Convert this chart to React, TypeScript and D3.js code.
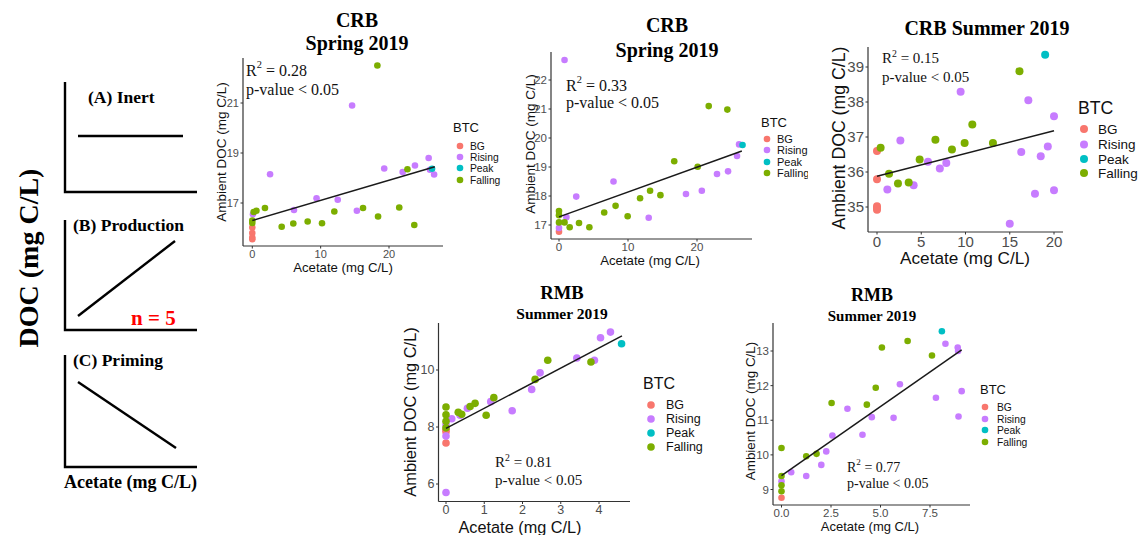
import React from 'react';
import * as d3 from 'd3';

type Pt = [number, number];

const SERIES = ['BG', 'Rising', 'Peak', 'Falling'];
const COLORS: Record<string, string> = { BG: '#F8766D', Rising: '#C77CFF', Peak: '#00BFC4', Falling: '#7CAE00' };

// ---------- Panel 1: CRB Spring 2019 (left) ----------
const p1BG: Pt[] = [[0, 16.02], [0, 15.8], [0, 15.62], [0, 15.55]];
const p1Rising: Pt[] = [[0.1, 16.55], [2.6, 18.15], [6.1, 16.72], [9.4, 17.19], [12.5, 17.13], [14.6, 20.9], [15.3, 16.69], [19.3, 18.38], [22.0, 18.24], [23.8, 18.5], [25.8, 18.8], [26.0, 18.33], [26.6, 18.14]];
const p1Peak: Pt[] = [[26.3, 18.37]];
const p1Falling: Pt[] = [[18.3, 22.5], [0, 16.3], [0, 16.2], [0.2, 16.64], [0.6, 16.69], [1.85, 16.8], [4.3, 16.05], [6.0, 16.18], [8.1, 16.26], [10.2, 16.19], [12.0, 16.66], [16.2, 16.8], [18.4, 16.46], [21.5, 16.82], [22.7, 18.35], [23.7, 16.12]];
const p1Fit: Pt[] = [[0, 16.3], [26.7, 18.45]];
const p1XTicks = [0, 10, 20];
const p1YTicks = [17, 19, 21];

// ---------- Panel 2: CRB Spring 2019 (middle) ----------
const p2BG: Pt[] = [[0, 16.77]];
const p2Rising: Pt[] = [[0, 16.9], [0.8, 22.69], [1.07, 17.27], [2.5, 17.98], [7.9, 18.5], [13.0, 17.25], [18.4, 18.07], [20.7, 18.18], [22.9, 18.76], [24.5, 18.85], [25.8, 19.38], [26.1, 19.78]];
const p2Peak: Pt[] = [[26.6, 19.76]];
const p2Falling: Pt[] = [[0, 17.48], [0, 17.34], [0, 17.09], [0.8, 17.09], [1.55, 16.92], [2.9, 17.07], [4.4, 16.92], [6.55, 17.43], [8.2, 17.66], [9.95, 17.3], [11.75, 17.92], [13.2, 18.18], [14.7, 18.03], [16.7, 19.2], [20.1, 19.01], [21.7, 21.1], [24.4, 20.98]];
const p2Fit: Pt[] = [[0, 17.28], [26.5, 19.55]];
const p2XTicks = [0, 10, 20];
const p2YTicks = [17, 18, 19, 20, 21, 22];

// ---------- Panel 3: CRB Summer 2019 ----------
const p3BG: Pt[] = [[0, 36.6], [0, 35.79], [0, 35.02], [0, 34.97], [0, 34.92]];
const p3Rising: Pt[] = [[1.17, 35.5], [2.64, 36.9], [4.14, 35.62], [5.76, 36.29], [7.1, 36.1], [7.83, 36.26], [9.45, 38.29], [15.0, 34.52], [16.3, 36.57], [17.1, 38.05], [17.85, 35.38], [18.5, 36.45], [19.3, 36.73], [20.0, 37.59], [20.0, 35.48]];
const p3Peak: Pt[] = [[19.0, 39.35]];
const p3Falling: Pt[] = [[0.41, 36.69], [1.36, 35.95], [2.37, 35.67], [3.58, 35.7], [4.82, 36.36], [6.6, 36.92], [8.47, 36.64], [9.9, 36.83], [10.77, 37.36], [13.1, 36.83], [16.1, 38.88]];
const p3Fit: Pt[] = [[0, 35.88], [20, 37.18]];
const p3XTicks = [0, 5, 10, 15, 20];
const p3YTicks = [35, 36, 37, 38, 39];

// ---------- Panel 4: RMB Summer 2019 (left) ----------
const p4BG: Pt[] = [[0, 7.9], [0, 7.83], [0, 7.44]];
const p4Rising: Pt[] = [[0, 5.7], [0, 7.68], [0, 8.08], [0.15, 8.29], [0.37, 8.41], [0.56, 8.66], [1.17, 8.89], [1.73, 8.57], [2.24, 9.32], [2.46, 9.9], [3.42, 10.42], [3.88, 10.34], [4.04, 11.13], [4.3, 11.33]];
const p4Peak: Pt[] = [[4.59, 10.92]];
const p4Falling: Pt[] = [[0, 8.7], [0, 8.43], [0, 8.2], [0, 7.97], [0.32, 8.52], [0.41, 8.45], [0.63, 8.72], [0.76, 8.83], [1.05, 8.41], [1.25, 9.03], [2.33, 9.67], [2.66, 10.34], [3.79, 10.28]];
const p4Fit: Pt[] = [[0, 7.95], [4.6, 11.2]];
const p4XTicks = [0, 1, 2, 3, 4];
const p4YTicks = [6, 8, 10];

// ---------- Panel 5: RMB Summer 2019 (right) ----------
const p5BG: Pt[] = [[0, 8.76]];
const p5Rising: Pt[] = [[0, 9.24], [0.49, 9.5], [1.25, 9.39], [2.01, 9.71], [2.26, 10.1], [2.57, 10.56], [3.33, 11.33], [4.09, 10.58], [4.56, 11.09], [5.66, 11.07], [5.98, 12.04], [7.8, 11.65], [8.28, 13.21], [8.9, 13.1], [8.92, 13.0], [8.94, 11.11], [9.1, 11.84]];
const p5Peak: Pt[] = [[8.1, 13.57]];
const p5Falling: Pt[] = [[0, 10.2], [0, 9.39], [0, 9.12], [0, 8.95], [1.25, 9.96], [1.77, 10.03], [2.53, 11.5], [4.31, 11.45], [4.76, 11.94], [5.07, 13.1], [6.37, 13.29], [7.6, 12.87]];
const p5Fit: Pt[] = [[0, 9.4], [9.1, 13.03]];
const p5XTicks = [0, 2.5, 5, 7.5];
const p5YTicks = [9, 10, 11, 12, 13];

const SANS = '"Liberation Sans", Arial, sans-serif';
const SERIF = '"Liberation Serif", "Times New Roman", serif';

interface Cfg {
  id: string;
  data: Record<string, Pt[]>;
  fit: Pt[];
  xTicks: number[]; yTicks: number[]; xFmt: (v: number) => string;
  xDom: [number, number]; xRng: [number, number];
  yDom: [number, number]; yRng: [number, number];
  axX: number; axTop: number; axY: number; axRight: number;
  tickFont: number; labFont: number; xlabFont: number;
  ylabX: number; ylabY: number; xlabX: number; xlabY: number;
  title: string[]; titleX: number; titleY: number[]; titleFont: number[];
  legTitleX: number; legTitleY: number; legTitleFont: number;
  legDotX: number; legTextX: number; legYs: number[]; legFont: number;
  r: number; statX: number; statYs: number[]; statFont: number; r2: string;
  clipRight?: number;
}

const fmtInt = (v: number) => String(v);
const fmt1 = (v: number) => v.toFixed(1);

const panels: Cfg[] = [
  {
    id: 'p1', data: { BG: p1BG, Rising: p1Rising, Peak: p1Peak, Falling: p1Falling }, fit: p1Fit,
    xTicks: p1XTicks, yTicks: p1YTicks, xFmt: fmtInt,
    xDom: [0, 20], xRng: [252.3, 389], yDom: [17, 21], yRng: [203, 103],
    axX: 243, axTop: 58, axY: 246, axRight: 443,
    tickFont: 11, labFont: 13.5, xlabFont: 13.2,
    ylabX: 221, ylabY: 152, xlabX: 343, xlabY: 267,
    title: ['CRB', 'Spring 2019'], titleX: 357, titleY: [20, 43], titleFont: [20, 20],
    legTitleX: 453, legTitleY: 127, legTitleFont: 13,
    legDotX: 460, legTextX: 470, legYs: [146, 157, 168, 180], legFont: 10.3,
    r: 3.3, statX: 246, statYs: [70, 89], statFont: 16, r2: '0.28',
  },
  {
    id: 'p2', data: { BG: p2BG, Rising: p2Rising, Peak: p2Peak, Falling: p2Falling }, fit: p2Fit,
    xTicks: p2XTicks, yTicks: p2YTicks, xFmt: fmtInt,
    xDom: [0, 20], xRng: [559, 697], yDom: [17, 22], yRng: [225, 80],
    axX: 551, axTop: 52, axY: 239, axRight: 752,
    tickFont: 11.5, labFont: 13.5, xlabFont: 13.2,
    ylabX: 530, ylabY: 144, xlabX: 650, xlabY: 260,
    title: ['CRB', 'Spring 2019'], titleX: 667, titleY: [25, 50], titleFont: [20, 20],
    legTitleX: 761, legTitleY: 122, legTitleFont: 13,
    legDotX: 767, legTextX: 777, legYs: [139, 150, 162, 173], legFont: 11,
    r: 3.3, statX: 566, statYs: [85, 102], statFont: 16, r2: '0.33', clipRight: 808,
  },
  {
    id: 'p3', data: { BG: p3BG, Rising: p3Rising, Peak: p3Peak, Falling: p3Falling }, fit: p3Fit,
    xTicks: p3XTicks, yTicks: p3YTicks, xFmt: fmtInt,
    xDom: [0, 20], xRng: [877, 1054], yDom: [35, 39], yRng: [207, 67],
    axX: 868, axTop: 47, axY: 232, axRight: 1063,
    tickFont: 15, labFont: 17.7, xlabFont: 17.2,
    ylabX: 839, ylabY: 138, xlabX: 965, xlabY: 258,
    title: ['CRB Summer 2019'], titleX: 987, titleY: [28], titleFont: [20],
    legTitleX: 1078, legTitleY: 108, legTitleFont: 17.7,
    legDotX: 1084, legTextX: 1098, legYs: [129, 144.5, 159, 173], legFont: 13.5,
    r: 4, statX: 882, statYs: [58, 77], statFont: 15, r2: '0.15',
  },
  {
    id: 'p4', data: { BG: p4BG, Rising: p4Rising, Peak: p4Peak, Falling: p4Falling }, fit: p4Fit,
    xTicks: p4XTicks, yTicks: p4YTicks, xFmt: fmtInt,
    xDom: [0, 4], xRng: [446, 599], yDom: [6, 10], yRng: [484, 370],
    axX: 438.5, axTop: 323, axY: 501.5, axRight: 630,
    tickFont: 12.5, labFont: 16.4, xlabFont: 16.3,
    ylabX: 410, ylabY: 412, xlabX: 520, xlabY: 527,
    title: ['RMB', 'Summer 2019'], titleX: 562, titleY: [292, 313], titleFont: [18.6, 15.5],
    legTitleX: 643, legTitleY: 383, legTitleFont: 16,
    legDotX: 651, legTextX: 666, legYs: [405, 419, 433, 447], legFont: 12.5,
    r: 3.8, statX: 495, statYs: [462, 480], statFont: 15, r2: '0.81',
  },
  {
    id: 'p5', data: { BG: p5BG, Rising: p5Rising, Peak: p5Peak, Falling: p5Falling }, fit: p5Fit,
    xTicks: p5XTicks, yTicks: p5YTicks, xFmt: fmt1,
    xDom: [0, 7.5], xRng: [781.5, 930], yDom: [9, 13], yRng: [489.5, 351],
    axX: 773, axTop: 323, axY: 505, axRight: 970,
    tickFont: 11.5, labFont: 13.4, xlabFont: 13,
    ylabX: 750, ylabY: 411, xlabX: 870, xlabY: 526,
    title: ['RMB', 'Summer 2019'], titleX: 872, titleY: [295, 316], titleFont: [18, 15],
    legTitleX: 980, legTitleY: 389, legTitleFont: 13,
    legDotX: 985, legTextX: 997, legYs: [407, 419, 430, 442], legFont: 10.3,
    r: 3.3, statX: 847, statYs: [467, 483], statFont: 14, r2: '0.77',
  },
];

function Panel({ c }: { c: Cfg }) {
  const x = d3.scaleLinear().domain(c.xDom).range(c.xRng);
  const y = d3.scaleLinear().domain(c.yDom).range(c.yRng);
  const line = d3.line<Pt>().x(d => x(d[0])).y(d => y(d[1]));
  const axisCol = '#333';
  const tickCol = '#4D4D4D';
  const clip = c.clipRight ? `url(#clip-${c.id})` : undefined;
  return (
    <g>
      {c.clipRight && (
        <defs>
          <clipPath id={`clip-${c.id}`}>
            <rect x={0} y={0} width={c.clipRight} height={535} />
          </clipPath>
        </defs>
      )}
      {c.title.map((t, i) => (
        <text key={t} x={c.titleX} y={c.titleY[i]} textAnchor="middle" dominantBaseline="central"
          fontFamily={SERIF} fontWeight="bold" fontSize={c.titleFont[i]} fill="#000">{t}</text>
      ))}
      <line x1={c.axX} x2={c.axX} y1={c.axTop} y2={c.axY} stroke={axisCol} strokeWidth={1.2} />
      <line x1={c.axX} x2={c.axRight} y1={c.axY} y2={c.axY} stroke={axisCol} strokeWidth={1.2} />
      {c.xTicks.map(t => (
        <g key={'x' + t}>
          <line x1={x(t)} x2={x(t)} y1={c.axY} y2={c.axY + 2.5} stroke={axisCol} strokeWidth={1} />
          <text x={x(t)} y={c.axY + 4} dy="0.71em" textAnchor="middle" fontFamily={SANS}
            fontSize={c.tickFont} fill={tickCol}>{c.xFmt(t)}</text>
        </g>
      ))}
      {c.yTicks.map(t => (
        <g key={'y' + t}>
          <line x1={c.axX - 2.5} x2={c.axX} y1={y(t)} y2={y(t)} stroke={axisCol} strokeWidth={1} />
          <text x={c.axX - 4} y={y(t)} dy="0.35em" textAnchor="end" fontFamily={SANS}
            fontSize={c.tickFont} fill={tickCol}>{t}</text>
        </g>
      ))}
      <text transform={`translate(${c.ylabX},${c.ylabY}) rotate(-90)`} textAnchor="middle" dominantBaseline="central"
        fontFamily={SANS} fontSize={c.labFont} fill="#111">Ambient DOC (mg C/L)</text>
      <text x={c.xlabX} y={c.xlabY} textAnchor="middle" dominantBaseline="central"
        fontFamily={SANS} fontSize={c.xlabFont} fill="#111">Acetate (mg C/L)</text>
      {SERIES.map(s => (
        <g key={s}>
          {c.data[s].map((d, i) => (
            <circle key={i} cx={x(d[0])} cy={y(d[1])} r={c.r} fill={COLORS[s]} />
          ))}
        </g>
      ))}
      <path d={line(c.fit) || ''} fill="none" stroke="#1a1a1a" strokeWidth={1.5} />
      <text x={c.statX} y={c.statYs[0]} dominantBaseline="central" fontFamily={SERIF} fontSize={c.statFont} fill="#111">
        R<tspan fontSize={c.statFont * 0.65} dy={-c.statFont * 0.35}>2</tspan>
        <tspan dy={c.statFont * 0.35}>{'  = ' + c.r2}</tspan>
      </text>
      <text x={c.statX} y={c.statYs[1]} dominantBaseline="central" fontFamily={SERIF} fontSize={c.statFont} fill="#111">
        {'p-value < 0.05'}
      </text>
      <g clipPath={clip}>
        <text x={c.legTitleX} y={c.legTitleY} dominantBaseline="central" fontFamily={SANS}
          fontSize={c.legTitleFont} fill="#111">BTC</text>
        {SERIES.map((s, i) => (
          <g key={s}>
            <circle cx={c.legDotX} cy={c.legYs[i]} r={c.r} fill={COLORS[s]} />
            <text x={c.legTextX} y={c.legYs[i]} dominantBaseline="central" fontFamily={SANS}
              fontSize={c.legFont} fill="#111">{s}</text>
          </g>
        ))}
      </g>
    </g>
  );
}

function Schematic() {
  const sw = 2.4;
  return (
    <g fontFamily={SERIF} fontWeight="bold">
      <text transform="translate(28,258) rotate(-90)" textAnchor="middle" dominantBaseline="central" fontSize={28}>DOC (mg C/L)</text>
      <path d="M65,82 V192 H197" fill="none" stroke="#000" strokeWidth={sw} />
      <line x1={78} x2={183} y1={136} y2={136} stroke="#000" strokeWidth={sw} />
      <text x={88} y={97} dominantBaseline="central" fontSize={17.5}>(A) Inert</text>
      <path d="M65,220 V330 H197" fill="none" stroke="#000" strokeWidth={sw} />
      <line x1={78} x2={175} y1={316} y2={241} stroke="#000" strokeWidth={sw} />
      <text x={73} y={225} dominantBaseline="central" fontSize={17.5}>(B) Production</text>
      <text x={131} y={318} dominantBaseline="central" fontSize={21} fill="#FF0000">n = 5</text>
      <path d="M65,355 V467 H197" fill="none" stroke="#000" strokeWidth={sw} />
      <line x1={78} x2={176} y1={382} y2={448} stroke="#000" strokeWidth={sw} />
      <text x={73} y={360} dominantBaseline="central" fontSize={17.5}>(C) Priming</text>
      <text x={64} y={482} dominantBaseline="central" fontSize={18}>Acetate (mg C/L)</text>
    </g>
  );
}

export default function App() {
  return (
    <svg width={1138} height={535} style={{ position: 'absolute', left: 0, top: 0, background: '#fff' }}>
      <rect width={1138} height={535} fill="#fff" />
      <Schematic />
      {panels.map(c => <Panel key={c.id} c={c} />)}
    </svg>
  );
}
